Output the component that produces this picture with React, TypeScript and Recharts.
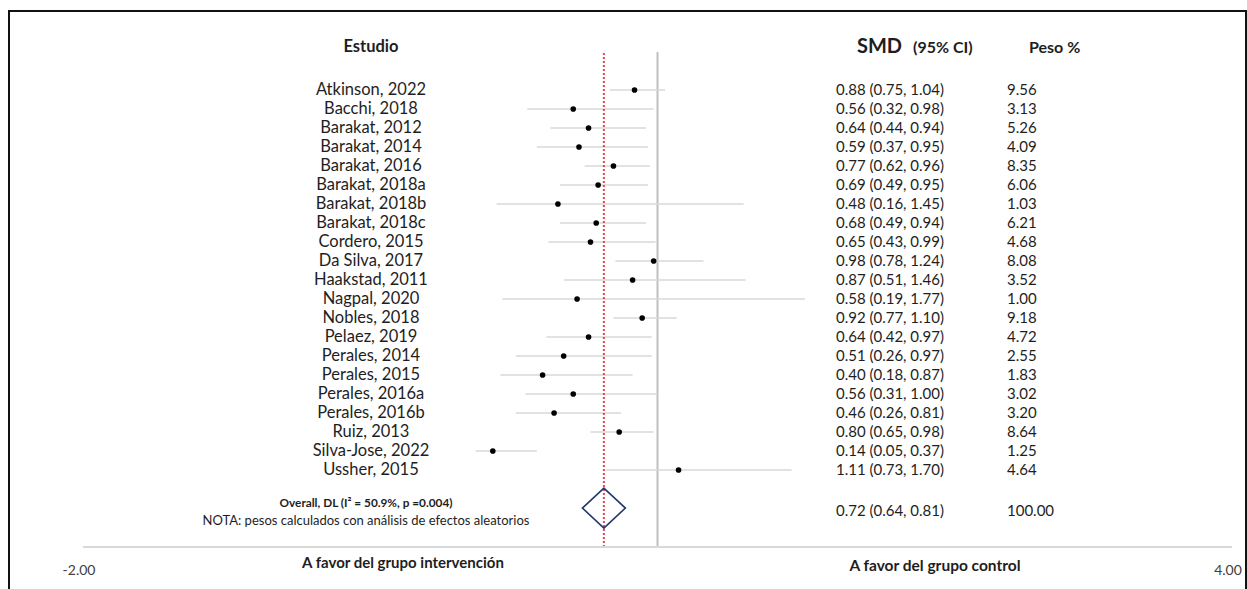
import React from 'react';
import { ComposedChart, Scatter, ErrorBar, XAxis, YAxis, ReferenceLine } from 'recharts';

// Study rows, top to bottom
const studies = [
  'Atkinson, 2022', 'Bacchi, 2018', 'Barakat, 2012', 'Barakat, 2014', 'Barakat, 2016',
  'Barakat, 2018a', 'Barakat, 2018b', 'Barakat, 2018c', 'Cordero, 2015', 'Da Silva, 2017',
  'Haakstad, 2011', 'Nagpal, 2020', 'Nobles, 2018', 'Pelaez, 2019', 'Perales, 2014',
  'Perales, 2015', 'Perales, 2016a', 'Perales, 2016b', 'Ruiz, 2013', 'Silva-Jose, 2022',
  'Ussher, 2015',
];
const smd = [0.88, 0.56, 0.64, 0.59, 0.77, 0.69, 0.48, 0.68, 0.65, 0.98, 0.87, 0.58, 0.92, 0.64, 0.51, 0.40, 0.56, 0.46, 0.80, 0.14, 1.11];
const ciLow = [0.75, 0.32, 0.44, 0.37, 0.62, 0.49, 0.16, 0.49, 0.43, 0.78, 0.51, 0.19, 0.77, 0.42, 0.26, 0.18, 0.31, 0.26, 0.65, 0.05, 0.73];
const ciHigh = [1.04, 0.98, 0.94, 0.95, 0.96, 0.95, 1.45, 0.94, 0.99, 1.24, 1.46, 1.77, 1.10, 0.97, 0.97, 0.87, 1.00, 0.81, 0.98, 0.37, 1.70];
const weights = [9.56, 3.13, 5.26, 4.09, 8.35, 6.06, 1.03, 6.21, 4.68, 8.08, 3.52, 1.00, 9.18, 4.72, 2.55, 1.83, 3.02, 3.20, 8.64, 1.25, 4.64];

// Pooled (random effects) estimate
const overallSmd = 0.72;
const overallLow = 0.64;
const overallHigh = 0.81;
const overallWeight = 100.0;
const overallRow = 22;

const xTicks = [-2, 4];
const nullValue = 1;

const FONT = 'Lato, "Open Sans", sans-serif';
const TEXT = '#1e1e1e';

const rows = studies.map((name, i) => ({
  name,
  x: smd[i],
  y: i,
  err: [+(smd[i] - ciLow[i]).toFixed(2), +(ciHigh[i] - smd[i]).toFixed(2)],
}));
const pooled = [{ x: overallSmd, y: overallRow }];

const fmt = (v: number) => v.toFixed(2);

// Text columns of each study row, placed on the row's y position
function RowText(props: any) {
  const { cy, payload } = props;
  const i = payload.y as number;
  return (
    <g fontFamily={FONT} fill={TEXT}>
      <text x={371} y={cy + 5} textAnchor="middle" fontSize={16.5}>{studies[i]}</text>
      <text x={836} y={cy + 5} fontSize={15}>
        {`${fmt(smd[i])} (${fmt(ciLow[i])}, ${fmt(ciHigh[i])})`}
      </text>
      <text x={1007} y={cy + 5} fontSize={15}>{fmt(weights[i])}</text>
    </g>
  );
}

function OverallText(props: any) {
  const { cy } = props;
  return (
    <g fontFamily={FONT} fill={TEXT}>
      <text x={366} y={cy - 1} textAnchor="middle" fontSize={11.8} fontWeight={700}>
        Overall, DL (I² = 50.9%, p =0.004)
      </text>
      <text x={366} y={cy + 17} textAnchor="middle" fontSize={13}>
        NOTA: pesos calculados con análisis de efectos aleatorios
      </text>
      <text x={836} y={cy + 8} fontSize={15}>
        {`${fmt(overallSmd)} (${fmt(overallLow)}, ${fmt(overallHigh)})`}
      </text>
      <text x={1007} y={cy + 8} fontSize={15}>{fmt(overallWeight)}</text>
    </g>
  );
}

function AxisTick(props: any) {
  const { x, payload } = props;
  return (
    <text x={x - 4} y={575} textAnchor="middle" fontFamily={FONT} fontSize={14} fill="#404040">
      {fmt(payload.value)}
    </text>
  );
}

function Dot(props: any) {
  const { cx, cy } = props;
  return <circle cx={cx} cy={cy} r={2.8} fill="#000" />;
}

function Diamond(props: any) {
  const { cx, cy } = props;
  const w = 21.5;
  const h = 20;
  return (
    <polygon
      points={`${cx - w},${cy} ${cx},${cy - h} ${cx + w},${cy} ${cx},${cy + h}`}
      fill="none"
      stroke="#22386e"
      strokeWidth={1.6}
    />
  );
}

export default function App() {
  return (
    <div style={{ position: 'absolute', left: 0, top: 0, width: 1247, height: 589, overflow: 'hidden', background: '#fff' }}>
      <div
        style={{
          position: 'absolute', left: 8, top: 10, width: 1239, height: 600,
          borderLeft: '2px solid #111', borderTop: '2px solid #111', borderRight: '2px solid #111',
          boxSizing: 'border-box',
        }}
      />
      <div style={{ position: 'absolute', left: 0, top: 0 }}>
        <ComposedChart width={1247} height={589} margin={{ top: 52, right: 15, bottom: 0, left: 83 }}>
          <XAxis
            type="number"
            dataKey="x"
            domain={[-2, 4]}
            ticks={xTicks}
            height={42}
            axisLine={{ stroke: '#d9d9d9', strokeWidth: 2 }}
            tickLine={false}
            tick={<AxisTick />}
            interval={0}
          />
          <YAxis type="number" dataKey="y" domain={[-2, 24.05]} reversed hide />
          <ReferenceLine x={nullValue} stroke="#bfbfbf" strokeWidth={2} />
          <Scatter data={rows} shape={<RowText />} isAnimationActive={false} />
          <Scatter data={rows} shape={<Dot />} isAnimationActive={false}>
            <ErrorBar dataKey="err" direction="x" width={0} stroke="#d9d9d9" strokeWidth={1.5} />
          </Scatter>
          <ReferenceLine x={overallSmd} stroke="#e8474b" strokeWidth={2} strokeDasharray="2 2" />
          <Scatter data={pooled} shape={<OverallText />} isAnimationActive={false} />
          <Scatter data={pooled} shape={<Diamond />} isAnimationActive={false} />
        </ComposedChart>
      </div>
      <svg width={1247} height={589} style={{ position: 'absolute', left: 0, top: 0, pointerEvents: 'none' }}>
        <g fontFamily={FONT} fill={TEXT} fontWeight={700}>
          <text x={371} y={52} textAnchor="middle" fontSize={16.5}>Estudio</text>
          <text x={857} y={53} fontSize={20}>SMD</text>
          <text x={913} y={53} fontSize={16}>(95% CI)</text>
          <text x={1029} y={53} fontSize={16}>Peso %</text>
          <text x={403} y={568} textAnchor="middle" fontSize={15}>A favor del grupo intervención</text>
          <text x={935} y={571} textAnchor="middle" fontSize={15.5}>A favor del grupo control</text>
        </g>
      </svg>
    </div>
  );
}
